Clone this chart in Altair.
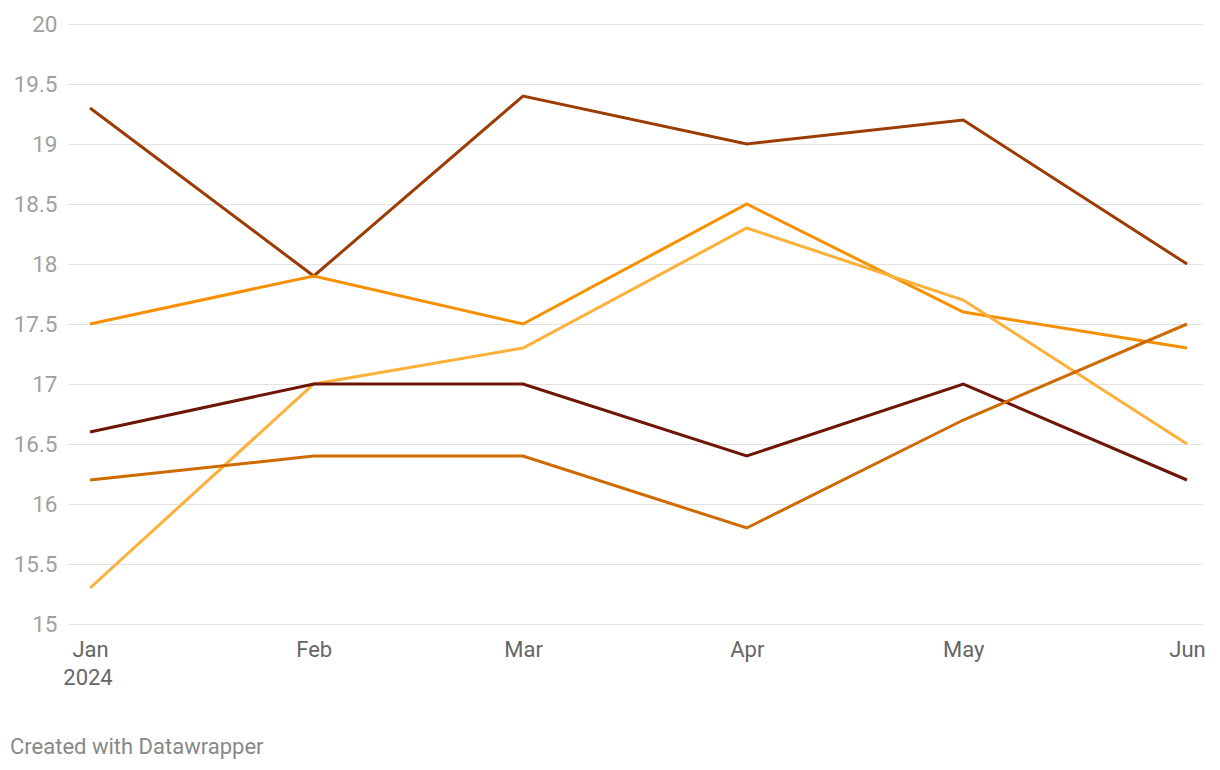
import altair as alt
import pandas as pd

months = ["Jan", "Feb", "Mar", "Apr", "May", "Jun"]
dates = ["2024-01-01", "2024-02-01", "2024-03-01", "2024-04-01", "2024-05-01", "2024-06-01"]
series_names = ["A", "B", "C", "D", "E"]
series_a = [19.3, 17.9, 19.4, 19.0, 19.2, 18.0]
series_b = [17.5, 17.9, 17.5, 18.5, 17.6, 17.3]
series_c = [15.3, 17.0, 17.3, 18.3, 17.7, 16.5]
series_d = [16.6, 17.0, 17.0, 16.4, 17.0, 16.2]
series_e = [16.2, 16.4, 16.4, 15.8, 16.7, 17.5]
colors = ["#9b3c05", "#f79000", "#fdb03a", "#6d1606", "#cd6a00"]
year_label = "2024"
footer = "Created with Datawrapper"

ts = pd.to_datetime(dates)
day_offsets = [int((t - ts[0]).days) for t in ts]

rows = []
for name, vals in zip(series_names, [series_a, series_b, series_c, series_d, series_e]):
    for i, v in enumerate(vals):
        rows.append({"series": name, "day": day_offsets[i], "month": months[i], "value": v})
df = pd.DataFrame(rows)

months_js = "[" + ",".join(f"'{m}'" for m in months) + "]"
offs_js = "[" + ",".join(str(d) for d in day_offsets) + "]"
label_expr = f"{months_js}[indexof({offs_js}, datum.value)]"

x_enc = alt.X(
    "day:Q",
    scale=alt.Scale(domain=[-3.05, day_offsets[-1] + 2.08], nice=False, zero=False),
    axis=alt.Axis(
        values=day_offsets, labelExpr=label_expr, title=None, grid=False,
        domain=False, ticks=False, labelPadding=15, labelFontSize=22,
        labelColor="#666666", labelFont="Roboto", labelBaseline="top",
        labelFlush=False,
    ),
)
y_enc = alt.Y(
    "value:Q",
    scale=alt.Scale(domain=[15, 20], nice=False, zero=False),
    axis=alt.Axis(
        values=[15 + 0.5 * k for k in range(11)], format="~g", title=None,
        domain=False, ticks=False, labelPadding=11, labelFontSize=22.5,
        labelColor="#a0a0a0", labelFont="Roboto", gridColor="#e2e2e2",
        gridWidth=1,
    ),
)

lines = alt.Chart(df).mark_line(strokeWidth=3, strokeJoin="miter").encode(
    x=x_enc,
    y=y_enc,
    color=alt.Color("series:N", scale=alt.Scale(domain=series_names, range=colors), legend=None),
    detail="series:N",
)

year_df = pd.DataFrame({"day": [day_offsets[0]], "label": [year_label]})
year = alt.Chart(year_df).mark_text(
    fontSize=22, font="Roboto", color="#666666", baseline="top", align="center", dx=-2
).encode(x=alt.X("day:Q"), y=alt.value(644), text="label:N")

foot_df = pd.DataFrame({"label": [footer]})
foot = alt.Chart(foot_df).mark_text(
    fontSize=22, font="Roboto", color="#888888", baseline="middle", align="left"
).encode(x=alt.value(-58), y=alt.value(723), text="label:N")

chart = alt.layer(lines, year, foot).properties(
    width=1134, height=600,
    autosize=alt.AutoSizeParams(type="none"),
    padding={"left": 60, "top": 16, "right": 10, "bottom": 142},
    background="white",
).configure_view(strokeWidth=0)

chart.save("out.html", embed_options={"renderer": "svg", "actions": False})
